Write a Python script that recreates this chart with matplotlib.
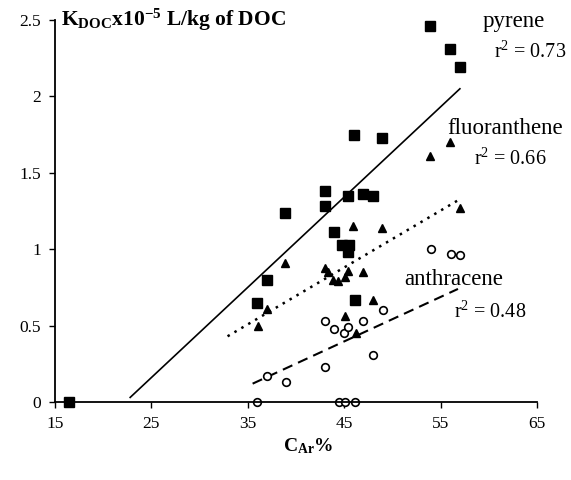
import numpy as np
import matplotlib
matplotlib.use("Agg")
import matplotlib.pyplot as plt

plt.rcParams["font.family"] = ["Liberation Serif", "DejaVu Serif"]
plt.rcParams["mathtext.fontset"] = "custom"
plt.rcParams["mathtext.rm"] = "Liberation Serif"
plt.rcParams["mathtext.bf"] = "Liberation Serif:bold"

# ── data (C_Ar %, K_DOC x1e-5) ──
pyr_x = [16.5, 36.0, 37.0, 38.9, 43.0, 43.0, 43.9, 44.8, 45.5, 45.4, 45.4,
         46.0, 46.1, 47.0, 48.0, 48.9, 53.9, 56.0, 57.0]
pyr_y = [0.00, 0.65, 0.80, 1.24, 1.38, 1.28, 1.11, 1.03, 1.03, 0.98, 1.35,
         1.75, 0.67, 1.36, 1.35, 1.73, 2.46, 2.31, 2.19]

flu_x = [36.1, 37.0, 38.9, 43.0, 43.3, 43.8, 44.4, 45.1, 45.4, 45.9, 47.0,
         48.0, 45.1, 46.2, 48.9, 53.9, 56.0, 57.0]
flu_y = [0.50, 0.61, 0.91, 0.88, 0.85, 0.80, 0.79, 0.82, 0.86, 1.15, 0.85,
         0.67, 0.56, 0.45, 1.14, 1.61, 1.70, 1.27]

ant_x = [36.0, 37.0, 39.0, 43.0, 43.0, 43.9, 45.0, 45.4, 47.0, 49.0, 48.0,
         54.0, 56.1, 57.0, 44.5, 45.1, 46.1]
ant_y = [0.00, 0.17, 0.13, 0.23, 0.53, 0.48, 0.45, 0.49, 0.53, 0.60, 0.31,
         1.00, 0.97, 0.96, 0.00, 0.00, 0.00]

# regression lines (end points)
pyr_fit_x = [22.8, 57.0]
pyr_fit_y = [0.03, 2.05]
flu_fit_x = [32.9, 56.8]
flu_fit_y = [0.43, 1.32]
ant_fit_x = [35.5, 56.8]
ant_fit_y = [0.12, 0.74]

x_ticks = [15, 25, 35, 45, 55, 65]
y_ticks = [0, 0.5, 1, 1.5, 2, 2.5]
y_tick_labels = ["0", "0.5", "1", "1.5", "2", "2.5"]

fig = plt.figure(figsize=(5.71, 4.8), dpi=100)
ax = fig.add_axes([0.0963, 0.1625, 0.8442, 0.7958])

ax.plot(pyr_fit_x, pyr_fit_y, color="black", lw=1.2, ls="-")
ax.plot(flu_fit_x, flu_fit_y, color="black", lw=1.8, ls=(0, (1, 2.2)))
ax.plot(ant_fit_x, ant_fit_y, color="black", lw=1.5, ls=(0, (5, 3)))

ax.plot(pyr_x, pyr_y, ls="none", marker="s", ms=6.5, color="black")
ax.plot(flu_x, flu_y, ls="none", marker="^", ms=6, color="black")
ax.plot(ant_x, ant_y, ls="none", marker="o", ms=5.5, mfc="white",
        mec="black", mew=1.2)

ax.set_xlim(15, 65)
ax.set_ylim(0, 2.5)
ax.set_xticks(x_ticks)
ax.set_yticks(y_ticks)
ax.set_yticklabels(y_tick_labels)
ax.tick_params(direction="out", length=4, width=1, labelsize=12.5, pad=6)
for s in ["top", "right"]:
    ax.spines[s].set_visible(False)
for s in ["left", "bottom"]:
    ax.spines[s].set_linewidth(1.3)
for ln in ax.lines:
    ln.set_clip_on(False)

# axis titles
ax.text(0.012, 1.0, r"$\mathbf{K_{DOC}x10^{-5}}$" + " L/kg of DOC",
        transform=ax.transAxes, ha="left", va="center", fontsize=15.5,
        fontweight="bold")
fig.text(0.54, 0.07, r"$\mathbf{C_{Ar}}$" + "%", ha="center", va="center",
         fontsize=14, fontweight="bold")

# series annotations
ax.text(59.4, 2.49, "pyrene", fontsize=16.5, ha="left", va="center")
ax.text(60.5, 2.29, r"r$^2$ = 0.73", fontsize=14.5, ha="left", va="center")
ax.text(55.7, 1.79, "fluoranthene", fontsize=16.5, ha="left", va="center")
ax.text(58.5, 1.59, r"r$^2$ = 0.66", fontsize=14.5, ha="left", va="center")
ax.text(51.2, 0.80, "anthracene", fontsize=16.5, ha="left", va="center")
ax.text(56.4, 0.59, r"r$^2$ = 0.48", fontsize=14.5, ha="left", va="center")

fig.savefig("out.png", dpi=100)
